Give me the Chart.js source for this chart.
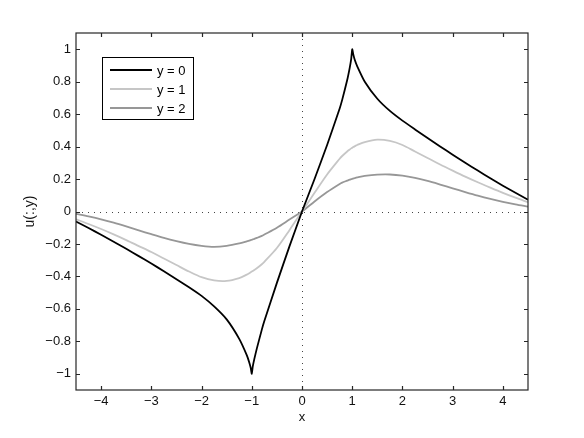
<!DOCTYPE html>
<html lang="en">
<head>
    <meta charset="UTF-8">
    <title>u(:,y)</title>
    <script src="https://cdn.jsdelivr.net/npm/chart.js"></script>
    <style>
        body { margin: 0; background: #fff; }
    </style>
</head>
<body>
    <canvas id="grafico" width="584" height="438"></canvas>

<script>
    // valores
    var xs = [-4.5, -4.25, -4, -3.75, -3.5, -3.25, -3, -2.75, -2.5, -2.25, -2, -1.75, -1.5, -1.25,
              -1.1, -1.05, -1.02, -1, -0.98, -0.95, -0.9, -0.8, -0.75, -0.5, -0.25,
              0,
              0.25, 0.5, 0.75, 0.8, 0.9, 0.95, 0.98, 1, 1.02, 1.05, 1.1,
              1.25, 1.5, 1.75, 2, 2.25, 2.5, 2.75, 3, 3.25, 3.5, 3.75, 4, 4.25, 4.5]
    var uY0 = [-0.062, -0.102, -0.143, -0.186, -0.23, -0.275, -0.321, -0.368, -0.417, -0.467, -0.52, -0.585, -0.665, -0.785,
               -0.885, -0.93, -0.965, -1, -0.955, -0.91, -0.845, -0.728, -0.675, -0.44, -0.215,
               0,
               0.2, 0.41, 0.635, 0.688, 0.81, 0.885, 0.94, 1, 0.97, 0.935, 0.895,
               0.8, 0.695, 0.62, 0.56, 0.506, 0.453, 0.401, 0.35, 0.3, 0.252, 0.205, 0.159, 0.115, 0.072]
    var uY1 = [-0.048, -0.077, -0.108, -0.141, -0.176, -0.213, -0.25, -0.29, -0.33, -0.37, -0.405, -0.425, -0.428, -0.41,
               -0.389, -0.38, -0.374, -0.37, -0.366, -0.36, -0.35, -0.325, -0.31, -0.225, -0.115,
               0,
               0.115, 0.228, 0.325, 0.342, 0.37, 0.382, 0.389, 0.393, 0.397, 0.402, 0.41,
               0.428, 0.443, 0.435, 0.41, 0.37, 0.33, 0.29, 0.252, 0.215, 0.18, 0.147, 0.115, 0.085, 0.057]
    var uY2 = [-0.014, -0.03, -0.048, -0.069, -0.092, -0.116, -0.14, -0.163, -0.183, -0.2, -0.212, -0.218, -0.212, -0.197,
               -0.184, -0.179, -0.176, -0.174, -0.172, -0.169, -0.163, -0.15, -0.142, -0.1, -0.05,
               0,
               0.062, 0.12, 0.17, 0.178, 0.19, 0.196, 0.199, 0.201, 0.203, 0.206, 0.21,
               0.219, 0.227, 0.228, 0.221, 0.207, 0.188, 0.166, 0.143, 0.12, 0.098, 0.078, 0.06, 0.044, 0.03]
    var rotulos = ['y = 0', 'y = 1', 'y = 2']
    var xTicks = [-4, -3, -2, -1, 0, 1, 2, 3, 4]
    var yTicks = [-1, -0.8, -0.6, -0.4, -0.2, 0, 0.2, 0.4, 0.6, 0.8, 1]

    var cores = ['#000000', '#c6c6c6', '#979797']
    var fonte = { family: 'Liberation Sans, Arial, sans-serif', size: 13 }

    function menos(v) {
        return String(Math.round(v * 10) / 10).replace('-', '\u2212')
    }

    // caixa com ticks para dentro nos quatro lados + linhas pontilhadas no zero + legenda
    const moldura = {
        id: 'moldura',
        beforeDatasetsDraw(chart) {
            const ctx = chart.ctx, a = chart.chartArea
            const x0 = chart.scales.x.getPixelForValue(0)
            const y0 = chart.scales.y.getPixelForValue(0)
            ctx.save()
            ctx.strokeStyle = '#444'
            ctx.lineWidth = 1
            ctx.setLineDash([1, 5])
            ctx.beginPath()
            ctx.moveTo(a.left, Math.round(y0) + 0.5)
            ctx.lineTo(a.right, Math.round(y0) + 0.5)
            ctx.moveTo(Math.round(x0) + 0.5, a.top)
            ctx.lineTo(Math.round(x0) + 0.5, a.bottom)
            ctx.stroke()
            ctx.restore()
        },
        afterDatasetsDraw(chart) {
            const ctx = chart.ctx, a = chart.chartArea
            const tam = 4
            ctx.save()
            ctx.strokeStyle = '#262626'
            ctx.lineWidth = 1.2
            ctx.strokeRect(a.left, a.top, a.right - a.left, a.bottom - a.top)
            ctx.beginPath()
            xTicks.forEach(function (v) {
                const px = Math.round(chart.scales.x.getPixelForValue(v)) + 0.5
                ctx.moveTo(px, a.bottom); ctx.lineTo(px, a.bottom - tam)
                ctx.moveTo(px, a.top); ctx.lineTo(px, a.top + tam)
            })
            yTicks.forEach(function (v) {
                const py = Math.round(chart.scales.y.getPixelForValue(v)) + 0.5
                ctx.moveTo(a.left, py); ctx.lineTo(a.left + tam, py)
                ctx.moveTo(a.right, py); ctx.lineTo(a.right - tam, py)
            })
            ctx.stroke()
            ctx.restore()
        },
        afterDraw(chart) {
            const ctx = chart.ctx, a = chart.chartArea
            const bx = a.left + 26, by = a.top + 24, bw = 91, bh = 62
            ctx.save()
            ctx.fillStyle = '#fff'
            ctx.fillRect(bx, by, bw, bh)
            ctx.strokeStyle = '#000'
            ctx.lineWidth = 1
            ctx.strokeRect(bx + 0.5, by + 0.5, bw, bh)
            ctx.font = fonte.size + 'px ' + fonte.family
            ctx.textBaseline = 'middle'
            ctx.fillStyle = '#000'
            chart.data.datasets.forEach(function (ds, i) {
                const ly = by + 13 + i * 19
                ctx.strokeStyle = ds.borderColor
                ctx.lineWidth = ds.borderWidth
                ctx.beginPath()
                ctx.moveTo(bx + 8, ly)
                ctx.lineTo(bx + 50, ly)
                ctx.stroke()
                ctx.fillText(ds.label, bx + 55, ly + 1)
            })
            ctx.restore()
        }
    }

    const series = [uY0, uY1, uY2]

    const myChart = new Chart(document.getElementById('grafico'), {
        type: 'line',
        data: {
            datasets: series.map(function (s, i) {
                return {
                    label: rotulos[i],
                    data: xs.map(function (x, j) { return { x: x, y: s[j] } }),
                    borderColor: cores[i],
                    backgroundColor: cores[i],
                    borderWidth: 1.8,
                    pointRadius: 0,
                    tension: i == 0 ? 0.15 : 0.3,
                    order: i,
                    fill: false
                }
            })
        },
        options: {
            responsive: false,
            animation: false,
            layout: { padding: { left: 0, right: 56, top: 33, bottom: 0 } },
            plugins: { legend: { display: false }, tooltip: { enabled: false } },
            scales: {
                x: {
                    type: 'linear',
                    min: -4.5,
                    max: 4.5,
                    afterBuildTicks: function (s) { s.ticks = xTicks.map(function (v) { return { value: v } }) },
                    afterFit: function (s) { s.height = 48 },
                    grid: { display: false, drawTicks: false },
                    border: { display: false },
                    ticks: { font: fonte, color: '#111', padding: 4, maxRotation: 0, autoSkip: false, callback: menos },
                    title: { display: true, text: 'x', font: fonte, color: '#111', padding: { top: 0, bottom: 13 } }
                },
                y: {
                    min: -1.1,
                    max: 1.1,
                    afterBuildTicks: function (s) { s.ticks = yTicks.map(function (v) { return { value: v } }) },
                    afterFit: function (s) { s.width = 76 },
                    grid: { display: false, drawTicks: false },
                    border: { display: false },
                    ticks: { font: fonte, color: '#111', padding: 5, autoSkip: false, callback: menos },
                    title: { display: true, text: 'u(:,y)', font: { family: fonte.family, size: 14 }, color: '#111', padding: { top: 22, bottom: 0 } }
                }
            }
        },
        plugins: [moldura]
    })
</script>
</body>
</html>
